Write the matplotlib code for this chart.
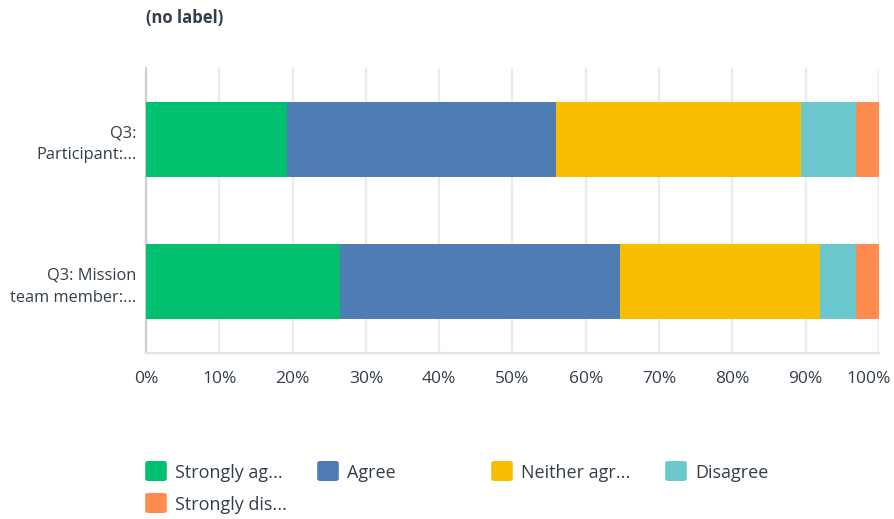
import numpy as np
import matplotlib
matplotlib.use("Agg")
import matplotlib.pyplot as plt
import matplotlib.transforms as mtransforms
from matplotlib.patches import FancyBboxPatch

plt.rcParams["font.family"] = ["Open Sans", "DejaVu Sans"]

# data (percent of responses)
questions = ["Q3:\nParticipant:...", "Q3: Mission\nteam member:..."]
series = ["Strongly ag...", "Agree", "Neither agr...", "Disagree", "Strongly dis..."]
strongly_agree = [19.2, 26.5]
agree = [36.7, 38.2]
neither = [33.5, 27.3]
disagree = [7.4, 4.8]
strongly_disagree = [3.2, 3.2]
colors = ["#00bf6f", "#507cb6", "#f9be00", "#6bc8cd", "#ff8b4f"]
xticks = np.arange(0, 101, 10)

TXT = "#333e48"

fig = plt.figure(figsize=(8.94, 5.19), dpi=100)
ax = fig.add_axes([0.1633, 0.3198, 0.8199, 0.5492])

values = [strongly_agree, agree, neither, disagree, strongly_disagree]
ypos = np.arange(len(questions))[::-1]
left = np.zeros(len(questions))
for vals, col, name in zip(values, colors, series):
    ax.barh(ypos, vals, left=left, height=0.524, color=col, label=name, zorder=3)
    left += np.array(vals)

ax.set_xlim(0, 100)
ax.set_ylim(-0.5, 1.5)
ax.set_xticks(xticks)
ax.set_xticklabels([f"{t}%" for t in xticks])
ax.set_yticks(ypos)
ax.set_yticklabels(questions, ha="right", linespacing=1.5)
ax.tick_params(axis="both", length=0, colors=TXT)
ax.tick_params(axis="x", pad=13, labelsize=12.5)
ax.tick_params(axis="y", pad=7, labelsize=11.8)
# last tick label pulled in so it stays inside the figure
last = ax.get_xticklabels()[-1]
last.set_transform(last.get_transform() +
                   mtransforms.ScaledTranslation(-0.1, 0, fig.dpi_scale_trans))
ax.grid(axis="x", color="#ebebeb", linewidth=1.6, zorder=0)
for s in ["top", "right"]:
    ax.spines[s].set_visible(False)
ax.spines["left"].set_color("#d0d0d0")
ax.spines["left"].set_linewidth(1.6)
ax.spines["bottom"].set_color("#e3e3e3")
ax.spines["bottom"].set_linewidth(1.6)

fig.text(146 / 894, 1 - 18 / 519, "(no label)", fontsize=12, fontweight="bold",
         color=TXT, ha="left", va="center")

# legend, laid out like the source
leg_x = [145, 317, 491, 665, 145]
leg_y = [471, 471, 471, 471, 503]
W, H = 894, 519
for name, col, lx, ly in zip(series, colors, leg_x, leg_y):
    box = FancyBboxPatch(((lx + 2) / W, 1 - (ly + 9) / H), 18 / W, 18 / H,
                         boxstyle="round,pad=0.002,rounding_size=0.004",
                         transform=fig.transFigure, facecolor=col,
                         edgecolor="none")
    fig.patches.append(box)
    fig.text((lx + 30) / W, 1 - (ly + 2) / H, name, fontsize=13, color=TXT,
             ha="left", va="center")

fig.savefig("out.png", dpi=100)
